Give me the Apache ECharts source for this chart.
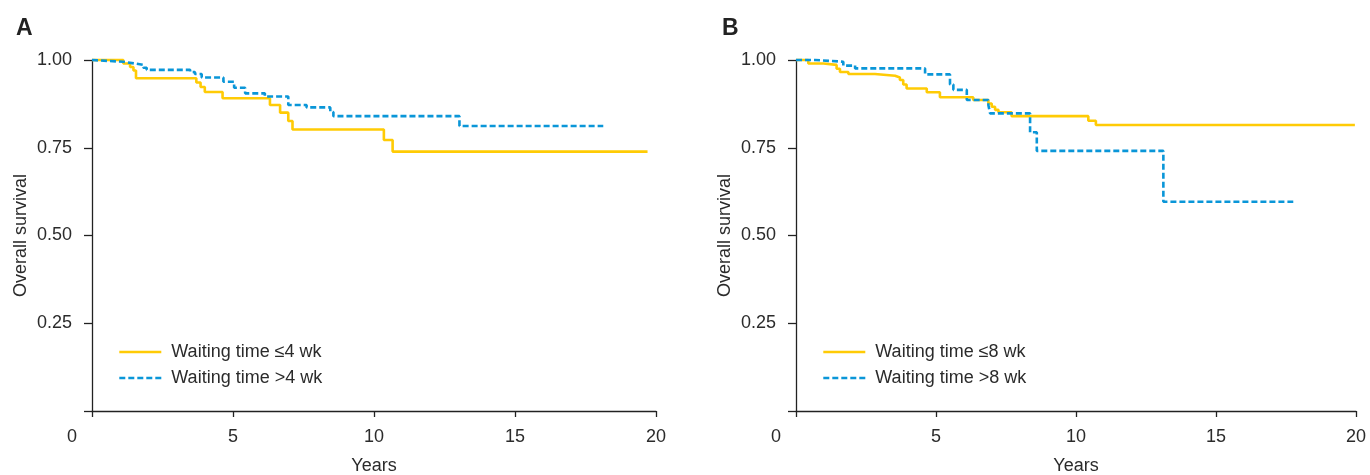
<!DOCTYPE html>
<html>
<head>
<meta charset="utf-8">
<script src="https://cdn.jsdelivr.net/npm/echarts@6/dist/echarts.min.js"></script>
<style>
  html, body { margin: 0; padding: 0; background: #fff; }
  #main { width: 1370px; height: 475px; }
</style>
</head>
<body>
<div id="main"></div>
<script>
// x ticks and y ticks
var xTicks = [0, 5, 10, 15, 20];
var yTicks = [0, 0.25, 0.5, 0.75, 1];

// panel A : [years, survival]
var shortA = [[0,1],[1.11,0.99],[1.35,0.98],[1.47,0.97],[1.56,0.948],[3.7,0.936],[3.85,0.923],[4.0,0.909],
              [4.63,0.891],[6.31,0.872],[6.67,0.85],[6.96,0.826],[7.11,0.802],[10.35,0.772],[10.66,0.739],[19.7,0.739]];
var longA  = [[0,1],[0.05,0.995],[1.11,0.99],[1.52,0.986],[1.82,0.978],[1.94,0.972],[3.48,0.966],[3.65,0.96],
              [3.89,0.95],[4.66,0.938],[5.04,0.921],[5.43,0.905],[6.13,0.896],[6.96,0.872],[7.61,0.865],
              [8.45,0.852],[8.56,0.84],[13.03,0.812],[18.13,0.812]];

// panel B
var shortB = [[0,1],[0.44,0.99],[0.98,0.986],[1.45,0.975],[1.57,0.966],[1.87,0.96],[2.82,0.955],[3.54,0.95],
              [3.71,0.943],[3.83,0.93],[3.95,0.919],[4.67,0.908],[5.14,0.894],[6.33,0.886],[6.87,0.876],
              [6.99,0.867],[7.11,0.858],[7.23,0.851],[7.7,0.84],[10.44,0.827],[10.71,0.815],[19.96,0.815]];
var longB  = [[0,1],[0.68,0.995],[1.69,0.984],[2.11,0.976],[4.61,0.959],[5.5,0.93],[5.62,0.915],[6.1,0.886],
              [6.87,0.872],[6.93,0.848],[8.36,0.794],[8.6,0.741],[13.12,0.596],[17.76,0.596]];

var names = ['Waiting time \u22644 wk', 'Waiting time >4 wk', 'Waiting time \u22648 wk', 'Waiting time >8 wk'];

var YELLOW = '#ffcb05';
var BLUE = '#0a96d8';
var TXT = '#2b2b2b';
var FONT = 'Liberation Sans, Arial, sans-serif';

function xAxis(idx) {
	return {
		type: 'value', gridIndex: idx, min: xTicks[0], max: xTicks[xTicks.length - 1], interval: xTicks[1] - xTicks[0],
		name: 'Years', nameLocation: 'middle', nameGap: 46,
		nameTextStyle: { fontSize: 18, color: TXT, fontFamily: FONT },
		splitLine: { show: false },
		axisLine: { lineStyle: { color: '#222', width: 1.3 } },
		axisTick: { length: 6, lineStyle: { color: '#222', width: 1.3 } },
		axisLabel: {
			margin: 17, fontSize: 18, color: TXT, fontFamily: FONT,
			formatter: function (v) { return v === 0 ? '{z|0}' : String(v); },
			rich: { z: { fontSize: 18, color: TXT, fontFamily: FONT, padding: [0, 40, 0, 0] } }
		}
	};
}

function yAxis(idx) {
	return {
		type: 'value', gridIndex: idx, min: yTicks[0], max: yTicks[yTicks.length - 1], interval: yTicks[1] - yTicks[0],
		name: 'Overall survival', nameLocation: 'middle', nameGap: 62,
		nameTextStyle: { fontSize: 18, color: TXT, fontFamily: FONT },
		splitLine: { show: false },
		axisLine: { lineStyle: { color: '#222', width: 1.3 } },
		axisTick: { length: 8, lineStyle: { color: '#222', width: 1.3 } },
		axisLabel: {
			margin: 20, fontSize: 18, color: TXT, fontFamily: FONT,
			formatter: function (v) { return v === 0 ? '' : v.toFixed(2); }
		}
	};
}

function curve(name, data, idx, color, dashed) {
	return {
		name: name, type: 'line', step: 'end', data: data,
		xAxisIndex: idx, yAxisIndex: idx,
		symbol: 'none', clip: false, silent: true,
		color: color,
		lineStyle: { color: color, width: 2.6, type: dashed ? [6, 3] : 'solid' }
	};
}

function legend(left, items) {
	return {
		orient: 'vertical', left: left, top: 338, itemWidth: 42, itemHeight: 12, itemGap: 8,
		data: items, selectedMode: false,
		itemStyle: { opacity: 0 },
		lineStyle: { width: 2.6 },
		textStyle: { fontSize: 18, color: TXT, fontFamily: FONT, padding: [0, 0, 0, 5] }
	};
}

var chart = echarts.init(document.getElementById('main'));
chart.setOption({
	backgroundColor: '#fff',
	animation: false,
	title: [
		{ text: 'A', left: 11, top: 12, textStyle: { fontSize: 23, fontWeight: 'bold', color: '#222', fontFamily: FONT } },
		{ text: 'B', left: 717, top: 12, textStyle: { fontSize: 23, fontWeight: 'bold', color: '#222', fontFamily: FONT } }
	],
	grid: [
		{ left: 92, top: 60, width: 564, height: 351, outerBoundsMode: 'none' },
		{ left: 796, top: 60, width: 560, height: 351, outerBoundsMode: 'none' }
	],
	xAxis: [xAxis(0), xAxis(1)],
	yAxis: [yAxis(0), yAxis(1)],
	legend: [legend(113, [names[0], names[1]]), legend(817, [names[2], names[3]])],
	series: [
		curve(names[0], shortA, 0, YELLOW, false),
		curve(names[1], longA, 0, BLUE, true),
		curve(names[2], shortB, 1, YELLOW, false),
		curve(names[3], longB, 1, BLUE, true)
	]
});
</script>
</body>
</html>
